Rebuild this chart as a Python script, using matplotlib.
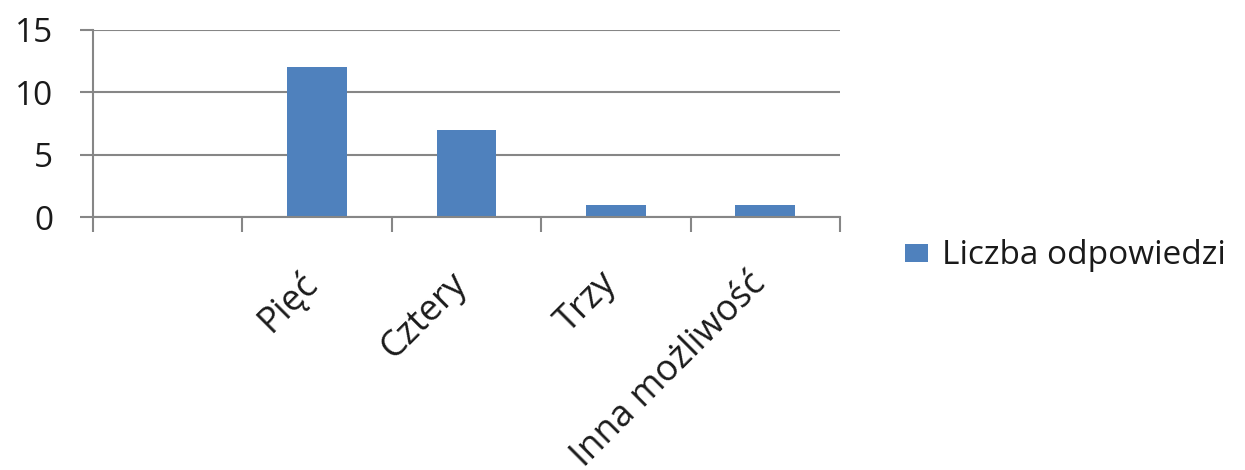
import matplotlib
matplotlib.use("Agg")
import matplotlib.pyplot as plt
from matplotlib.transforms import ScaledTranslation
import numpy as np

# Survey answers
categories = ["", "Pięć", "Cztery", "Trzy", "Inna możliwość"]
counts = [0, 12, 7, 1, 1]
series_name = "Liczba odpowiedzi"
y_ticks = [0, 5, 10, 15]

plt.rcParams["font.family"] = ["Open Sans", "DejaVu Sans"]

BAR = "#4F81BD"
GRID = "#868686"
TEXT = "#1a1a1a"

fig = plt.figure(figsize=(12.45, 4.70), dpi=100)
ax = fig.add_axes([93 / 1245, 1 - 217 / 470, 747 / 1245, 187 / 470])

x = np.arange(len(categories))
ax.bar(x, counts, width=0.4, color=BAR, zorder=3, label=series_name)

ax.set_xlim(-0.5, len(categories) - 0.5)
ax.set_ylim(0, 15)

# y axis with gridlines
ax.set_yticks(y_ticks)
ax.yaxis.grid(True, color=GRID, linewidth=1.5, zorder=0)
ax.tick_params(axis="y", direction="out", length=9.5, width=1.5, color=GRID,
               pad=19, labelsize=24, labelcolor=TEXT)

# category labels at bar centres, tick marks on category boundaries
ax.set_xticks(x)
ax.set_xticklabels(categories, rotation=45, ha="right", va="top",
                   rotation_mode="anchor")
ax.set_xticks(np.arange(-0.5, len(categories)), minor=True)
ax.tick_params(axis="x", which="major", length=0, pad=35, labelsize=26,
               labelcolor=TEXT)
ax.tick_params(axis="x", which="minor", direction="out", length=11, width=1.5,
               color=GRID)
shift = ScaledTranslation(-17 / 100, 0, fig.dpi_scale_trans)
for lbl in ax.get_xticklabels():
    lbl.set_transform(lbl.get_transform() + shift)

for side in ("top", "right"):
    ax.spines[side].set_visible(False)
for side in ("left", "bottom"):
    ax.spines[side].set_color(GRID)
    ax.spines[side].set_linewidth(1.5)
    ax.spines[side].set_zorder(4)

fs_px = 24 * 100 / 72
leg = ax.legend(loc="center left", bbox_to_anchor=(905 / 1245, 1 - 256 / 470),
                bbox_transform=fig.transFigure, frameon=False, fontsize=24,
                borderpad=0, borderaxespad=0,
                handlelength=23 / fs_px, handleheight=15 / fs_px,
                handletextpad=14 / fs_px)
for t in leg.get_texts():
    t.set_color(TEXT)

fig.savefig("out.png", dpi=100)
